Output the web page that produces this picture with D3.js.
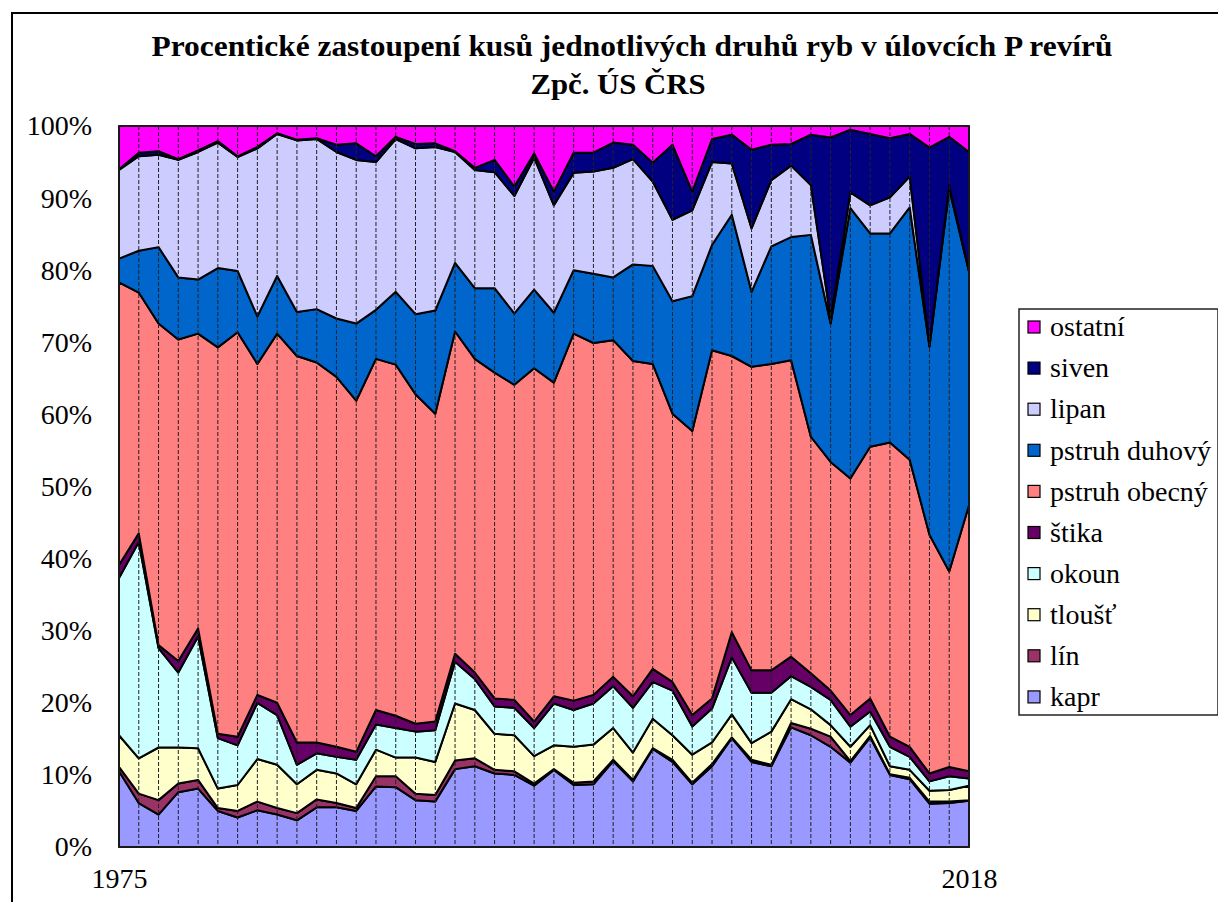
<!DOCTYPE html>
<html>
<head>
<meta charset="utf-8">
<script src="https://cdn.jsdelivr.net/npm/d3@7"></script>
<style>
  body { margin: 0; background: #fff; }
  svg { display: block; }
  svg text { font-family: "Liberation Serif", serif !important; fill: #000; }
</style>
</head>
<body>
<div id="chart"></div>
<script>
// years on the x axis
const years = d3.range(1975, 2019);

// share of each species (%)
const kapr = [10.5,6.1,4.5,7.6,8.1,5.0,4.1,5.1,4.5,3.7,5.5,5.5,5.0,8.4,8.3,6.5,6.3,10.8,11.2,10.2,10.0,8.5,10.7,8.6,8.7,11.9,9.1,13.6,11.8,8.7,11.2,15.1,11.8,11.2,16.6,15.5,13.9,11.7,15.2,10.0,9.4,6.0,6.1,6.4];
const lin = [0.6,1.3,2.0,1.2,1.2,0.4,0.9,1.2,0.9,1.0,1.1,0.6,0.4,1.4,1.5,0.9,0.9,1.2,1.1,0.5,0.5,0.3,0.1,0.3,0.4,0.2,0.2,0.1,0.3,0.2,0.3,0.1,0.3,0.2,0.6,0.9,1.4,0.2,0.2,0.1,0.2,0.3,0.2,0.1];
const tloust = [4.4,4.9,7.3,5.0,4.4,2.7,3.6,5.9,6.0,4.0,4.1,4.1,3.3,3.7,2.6,5.0,4.6,7.9,6.7,5.0,5.0,3.8,3.3,5.0,5.1,4.4,3.8,4.1,3.4,3.9,3.0,3.2,2.3,4.6,3.3,2.7,1.6,2.0,1.5,1.1,1.1,1.5,1.6,2.0];
const okoun = [21.8,30.0,13.8,10.4,15.5,7.0,5.5,7.8,6.9,2.7,2.3,2.3,3.4,3.5,4.1,3.6,4.4,5.8,4.3,3.8,3.8,3.9,5.8,5.1,5.7,5.8,6.2,5.1,6.2,3.9,4.7,7.9,7.0,5.4,3.2,3.1,3.5,2.8,1.9,2.7,1.8,1.3,1.9,1.0];
const stika = [1.8,1.2,0.4,1.6,1.1,0.6,1.2,1.1,1.7,3.1,1.5,1.4,1.1,2.0,1.7,1.1,1.2,1.1,0.9,1.1,1.1,0.9,1.0,1.3,1.2,1.3,1.6,1.8,1.2,1.6,1.4,3.5,3.1,3.1,2.7,1.9,1.3,1.6,1.8,1.4,1.4,1.1,1.3,1.0];
const obecny = [39.2,33.4,44.6,44.6,40.9,53.6,56.1,45.9,51.2,53.6,52.7,51.3,48.7,48.7,48.7,45.7,42.7,44.7,43.5,45.2,43.7,49.0,43.5,50.9,48.8,46.7,46.5,42.3,37.2,39.4,48.3,38.3,42.1,42.5,41.1,32.8,31.7,32.8,34.9,40.8,39.8,33.1,27.1,36.9];
const duhovy = [3.3,5.8,10.6,8.6,7.5,11.0,8.5,6.6,8.0,6.1,7.4,8.1,10.7,6.8,10.1,11.1,14.3,9.5,9.8,11.7,9.9,10.9,9.7,8.8,9.6,8.7,13.4,13.6,15.6,18.7,14.6,19.6,10.4,16.3,17.1,28.0,19.2,37.5,29.6,29.0,35.0,26.1,53.1,32.4];
const lipan = [12.3,13.1,12.8,16.3,17.7,17.4,15.8,23.3,19.7,23.8,23.6,23.1,22.7,20.5,21.2,23.0,22.7,15.4,16.4,16.1,16.3,18.3,14.9,13.5,14.2,15.2,14.6,11.7,11.3,11.9,11.5,7.1,8.8,9.2,9.9,6.9,0.7,2.2,3.9,5.0,4.3,0.1,0.4,0.1];
const siven = [0.1,0.5,0.5,0.1,0.2,0.2,0.1,0.2,0.1,0.1,0.1,1.0,2.3,0.8,0.3,0.6,0.5,0.1,0.3,1.7,1.3,0.6,1.9,2.8,2.6,3.5,2.0,2.6,10.4,2.6,3.2,4.0,10.9,4.9,3.0,7.0,25.1,8.7,9.9,8.2,5.9,27.5,6.8,16.5];
const ostatni = [6.0,3.7,3.5,4.6,3.4,2.1,4.2,2.9,1.0,1.9,1.7,2.6,2.4,4.2,1.5,2.5,2.4,3.5,5.8,4.7,8.4,3.8,9.1,3.7,3.7,2.3,2.6,5.1,2.6,9.1,1.8,1.2,3.3,2.6,2.5,1.2,1.6,0.5,1.1,1.7,1.1,3.0,1.5,3.6];

// stacking order, bottom to top
const seriesNames = ["kapr", "lín", "tloušť", "okoun", "štika", "pstruh obecný", "pstruh duhový", "lipan", "siven", "ostatní"];
const seriesValues = [kapr, lin, tloust, okoun, stika, obecny, duhovy, lipan, siven, ostatni];
const seriesColors = ["#9999FF", "#993366", "#FFFFCC", "#CCFFFF", "#660066", "#FF8080", "#0066CC", "#CCCCFF", "#000080", "#FF00FF"];

const yTicks = [0, 0.1, 0.2, 0.3, 0.4, 0.5, 0.6, 0.7, 0.8, 0.9, 1];
const xLabels = [1975, 2018];

const titleLines = ["Procentické zastoupení kusů jednotlivých druhů ryb v úlovcích P revírů", "Zpč. ÚS ČRS"];

const serif = '"Liberation Serif", serif';

// plot box
const W = 1218, H = 902;
const plot = { left: 119, right: 969, top: 126, bottom: 847 };

const svg = d3.select("#chart")
    .append("svg")
    .attr("width", W)
    .attr("height", H)
    .attr("font-family", serif);

// outer chart frame (runs off the right and bottom)
svg.append("rect")
    .attr("x", 12).attr("y", 13)
    .attr("width", W + 20).attr("height", H + 20)
    .attr("fill", "#fff")
    .attr("stroke", "#000")
    .attr("stroke-width", 2);

// build rows for d3.stack
const rows = years.map((yr, i) => {
    const r = { year: yr };
    seriesNames.forEach((n, k) => { r[n] = seriesValues[k][i]; });
    return r;
});

const stacked = d3.stack()
    .keys(seriesNames)
    .offset(d3.stackOffsetExpand)(rows);

const x = d3.scaleLinear()
    .domain([years[0], years[years.length - 1]])
    .range([plot.left, plot.right]);

const y = d3.scaleLinear()
    .domain([0, 1])
    .range([plot.bottom, plot.top]);

const color = d3.scaleOrdinal().domain(seriesNames).range(seriesColors);

const area = d3.area()
    .x(d => x(d.data.year))
    .y0(d => y(d[0]))
    .y1(d => y(d[1]));

svg.append("g")
    .selectAll("path")
    .data(stacked)
    .enter()
    .append("path")
    .attr("d", area)
    .attr("fill", d => color(d.key))
    .attr("stroke", "#000")
    .attr("stroke-width", 2)
    .attr("stroke-linejoin", "round");

// dashed vertical lines at each year, drawn over the areas
svg.append("g")
    .selectAll("line")
    .data(years.slice(1, -1))
    .enter()
    .append("line")
    .attr("x1", d => x(d)).attr("x2", d => x(d))
    .attr("y1", plot.top).attr("y2", plot.bottom)
    .attr("stroke", "#222")
    .attr("stroke-width", 1)
    .attr("stroke-dasharray", "4,2");

// plot border
svg.append("rect")
    .attr("x", plot.left).attr("y", plot.top)
    .attr("width", plot.right - plot.left)
    .attr("height", plot.bottom - plot.top)
    .attr("fill", "none")
    .attr("stroke", "#222")
    .attr("stroke-width", 1.5);

// y axis
const yAxis = svg.append("g")
    .attr("transform", `translate(${plot.left},0)`)
    .call(d3.axisLeft(y).tickValues(yTicks).tickFormat(d3.format(".0%")).tickSize(0).tickPadding(27));
yAxis.attr("font-family", serif).attr("font-size", 28);
yAxis.select(".domain").remove();

// x axis: only first and last year
const xAxis = svg.append("g")
    .attr("transform", `translate(0,${plot.bottom})`)
    .call(d3.axisBottom(x).tickValues(xLabels).tickFormat(d3.format("d")).tickSize(0).tickPadding(21));
xAxis.attr("font-family", serif).attr("font-size", 28);
xAxis.select(".domain").remove();

// title
svg.append("text")
    .attr("x", 632).attr("y", 56)
    .attr("text-anchor", "middle")
    .attr("font-weight", "bold")
    .attr("font-size", "30px")
    .attr("textLength", 961)
    .attr("lengthAdjust", "spacingAndGlyphs")
    .text(titleLines[0]);

svg.append("text")
    .attr("x", 618).attr("y", 94)
    .attr("text-anchor", "middle")
    .attr("font-weight", "bold")
    .attr("font-size", "30px")
    .attr("textLength", 175)
    .attr("lengthAdjust", "spacingAndGlyphs")
    .text(titleLines[1]);

// legend, top entry is the top series
const legend = svg.append("g").attr("class", "legend");
legend.append("rect")
    .attr("x", 1019).attr("y", 309)
    .attr("width", 199).attr("height", 406)
    .attr("fill", "#fff")
    .attr("stroke", "#222")
    .attr("stroke-width", 1.5);

const legendItem = legend.selectAll(".legend-item")
    .data(seriesNames.slice().reverse())
    .enter()
    .append("g")
    .attr("class", "legend-item")
    .attr("transform", (d, i) => `translate(1028,${327 + i * 41.1})`);

legendItem.append("rect")
    .attr("x", 0).attr("y", -6)
    .attr("width", 12).attr("height", 12)
    .attr("fill", d => color(d))
    .attr("stroke", "#000")
    .attr("stroke-width", 1.2);

legendItem.append("text")
    .attr("x", 22)
    .attr("y", 0)
    .attr("dy", "0.33em")
    .attr("font-size", "28px")
    .text(d => d);
</script>
</body>
</html>
